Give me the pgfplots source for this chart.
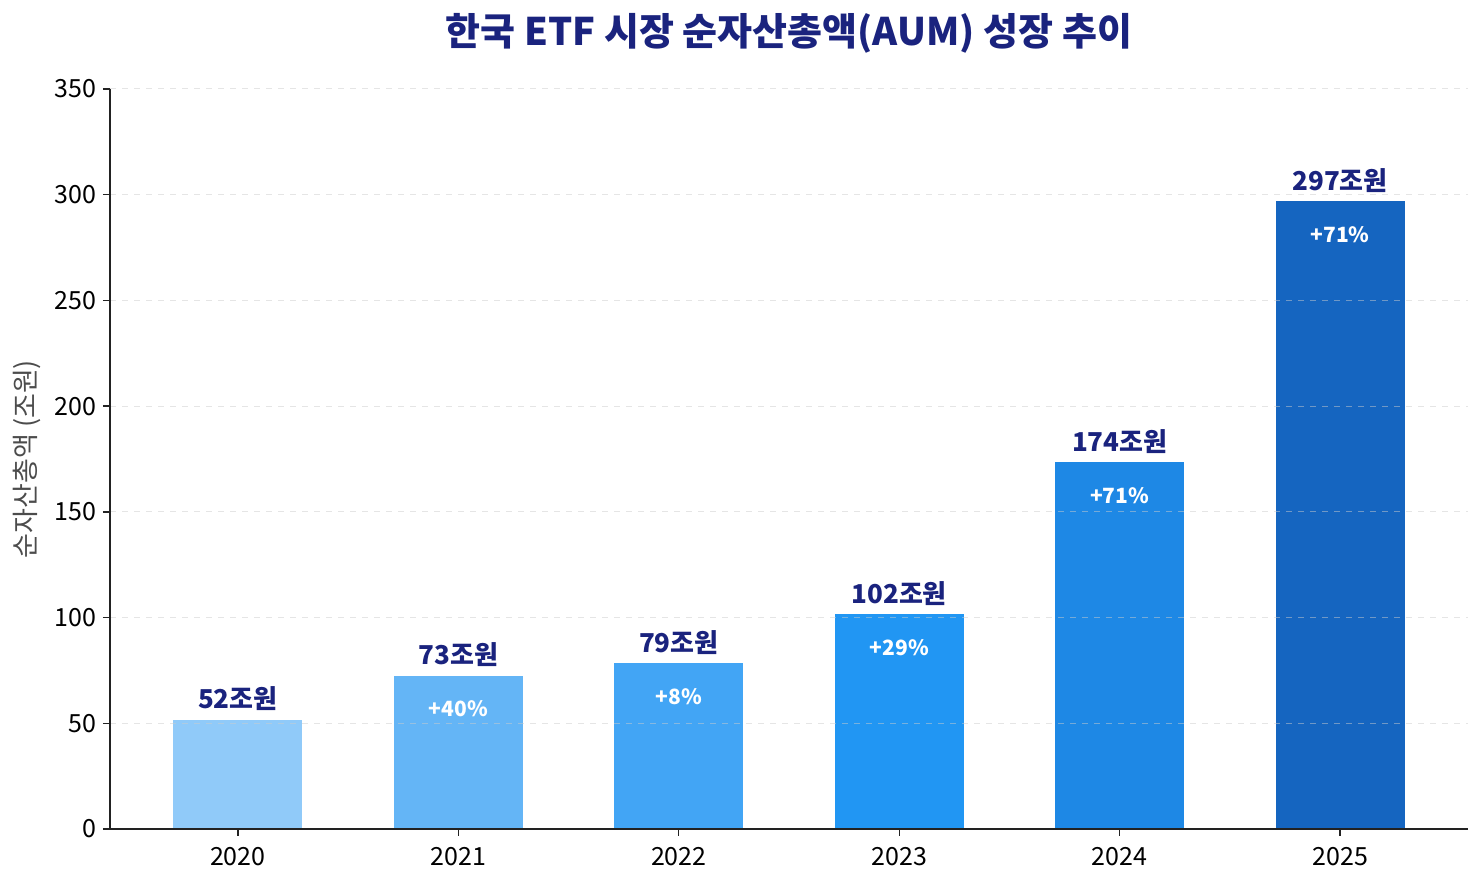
\documentclass[border=0pt]{standalone}
\usepackage{fontspec}
\setmainfont{Noto Sans CJK KR}
\usepackage{pgfplots}
\pgfplotsset{compat=1.18}
\definecolor{c0}{HTML}{90CAF9}
\definecolor{c1}{HTML}{64B5F6}
\definecolor{c2}{HTML}{42A5F5}
\definecolor{c3}{HTML}{2196F3}
\definecolor{c4}{HTML}{1E88E5}
\definecolor{c5}{HTML}{1565C0}
\definecolor{navy}{HTML}{1A237E}
\definecolor{axc}{HTML}{222222}
\begin{document}
\begin{tikzpicture}
\begin{axis}[
  scale only axis, width=679pt, height=370pt,
  xmin=-0.58, xmax=5.58, ymin=0, ymax=350,
  ytick={0,50,...,350},
  xtick={0,1,2,3,4,5},
  xticklabels={2020,2021,2022,2023,2024,2025},
  axis x line*=bottom, axis y line*=left,
  axis line style={axc, line width=0.7pt},
  tick style={axc, line width=0.7pt},
  tick align=outside, major tick length=3.5pt,
  ymajorgrids, grid style={dashed, gray!40, line width=0.5pt, opacity=0.5},
  axis on top,
  /pgf/number format/assume math mode=true,
  ticklabel style={font=\fontsize{12.5}{14}\selectfont, text=black},
  xticklabel style={yshift=-2pt},
  ylabel={순자산총액 (조원)},
  ylabel style={at={(axis description cs:-0.0611,0.5)}, anchor=center, font=\fontsize{13.5}{15}\selectfont, text=black!70},
  clip=false,
  point meta=explicit symbolic,
  nodes near coords,
  every node near coord/.style={anchor=center, yshift=10.5pt, text=navy, font=\bfseries\fontsize{13}{15}\selectfont},
]
\addplot[ybar, bar width=0.585, bar shift=0pt, fill=c0, draw=none] coordinates {(0,51.6) [52조원]};
\addplot[ybar, bar width=0.585, bar shift=0pt, fill=c1, draw=none] coordinates {(1,72.5) [73조원]};
\addplot[ybar, bar width=0.585, bar shift=0pt, fill=c2, draw=none] coordinates {(2,78.3) [79조원]};
\addplot[ybar, bar width=0.585, bar shift=0pt, fill=c3, draw=none] coordinates {(3,101.5) [102조원]};
\addplot[ybar, bar width=0.585, bar shift=0pt, fill=c4, draw=none] coordinates {(4,173.4) [174조원]};
\addplot[ybar, bar width=0.585, bar shift=0pt, fill=c5, draw=none] coordinates {(5,296.8) [297조원]};
\begin{scope}[every node/.style={text=white, font=\bfseries\fontsize{10.5}{12}\selectfont, anchor=center, yshift=-16.5pt}]
\node at (axis cs:1,72.5) {+40\%};
\node at (axis cs:2,78.3) {+8\%};
\node at (axis cs:3,101.5) {+29\%};
\node at (axis cs:4,173.4) {+71\%};
\node at (axis cs:5,296.8) {+71\%};
\end{scope}
\node[text=navy, font=\bfseries\fontsize{19}{21}\selectfont, anchor=center] at (axis description cs:0.5,1) [yshift=28pt] {한국 ETF 시장 순자산총액(AUM) 성장 추이};
\coordinate (sw) at (rel axis cs:0,0);
\coordinate (ne) at (rel axis cs:1,1);
\end{axis}
\pgfresetboundingbox
\path ([shift={(-55pt,-27pt)}]sw) rectangle ([shift={(8pt,44.5pt)}]ne);
\end{tikzpicture}
\end{document}
